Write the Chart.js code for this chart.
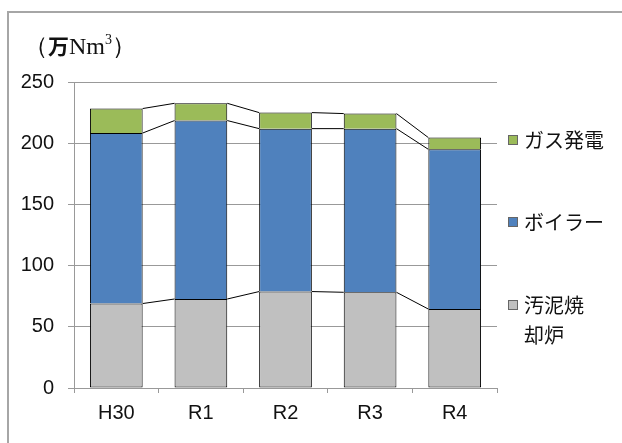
<!DOCTYPE html>
<html>
<head>
<meta charset="utf-8">
<script src="https://cdn.jsdelivr.net/npm/chart.js@4/dist/chart.umd.min.js"></script>
<style>
  html, body { margin: 0; padding: 0; background: #fff; }
  #wrap { position: relative; width: 622px; height: 443px; overflow: hidden; }
  #frame { position: absolute; left: 7px; top: 11px; width: 700px; height: 500px;
           border-left: 2px solid #a6a6a6; border-top: 2px solid #a6a6a6; }
  #unit { position: absolute; left: 24px; top: 30px; font-size: 24px; color: #111;
          font-family: "Liberation Serif", serif; white-space: nowrap; }
  #unit .man { font-family: "Noto Sans CJK JP", sans-serif; font-weight: bold; font-size: 21px; }
  #unit sup { font-size: 14px; vertical-align: 10px; line-height: 0; }
  .leg { position: absolute; left: 508px; font-family: "Noto Sans CJK JP", sans-serif;
         font-size: 20px; color: #111; line-height: 30px; }
  .leg span.box { position: absolute; left: 0; top: 10px; width: 8px; height: 8px;
                  border: 1px solid #666; }
  .leg span.txt { display: block; margin-left: 16px; }
  canvas { position: absolute; left: 0; top: 0; }
</style>
</head>
<body>
<div id="wrap">
  <div id="frame"></div>
  <canvas id="myChart" width="622" height="443"></canvas>
  <div id="unit">（<span class="man">万</span>Nm<sup>3</sup>）</div>
  <div id="legend"></div>
</div>
<script>
// data
const years = ["H30", "R1", "R2", "R3", "R4"];
const sludge = [69, 72.7, 78.8, 78.2, 64.5];   // 汚泥焼却炉
const boiler = [139.3, 145.8, 133.1, 133.7, 130.5]; // ボイラー
const gas = [20, 14.1, 13.1, 12.3, 9.6];       // ガス発電
const yTicks = [0, 50, 100, 150, 200, 250];

const seriesNames = ["汚泥焼却炉", "ボイラー", "ガス発電"];
const seriesColors = ["#c0c0c0", "#4f81bd", "#9bbb59"];

// legend (top to bottom = reversed stack)
const legendTops = [290, 207, 125];
const legendLines = [["汚泥焼", "却炉"], ["ボイラー"], ["ガス発電"]];
const legendParent = document.getElementById("legend");
seriesNames.forEach((name, i) => {
  let item = document.createElement("div");
  item.className = "leg";
  item.style.top = legendTops[i] + "px";
  item.innerHTML = '<span class="box" style="background:' + seriesColors[i] + '"></span>' +
    legendLines[i].map(t => '<span class="txt">' + t + '</span>').join("");
  legendParent.appendChild(item);
});

// excel style series lines between bars
const seriesLines = {
  id: "seriesLines",
  afterDatasetsDraw(chart) {
    const ctx = chart.ctx;
    ctx.save();
    ctx.strokeStyle = "#000";
    ctx.lineWidth = 1;
    chart.data.datasets.forEach((ds, di) => {
      const bars = chart.getDatasetMeta(di).data;
      for (let i = 0; i < bars.length - 1; i++) {
        const a = bars[i], b = bars[i + 1];
        ctx.beginPath();
        ctx.moveTo(a.x + a.width / 2, a.y);
        ctx.lineTo(b.x - b.width / 2, b.y);
        ctx.stroke();
      }
    });
    ctx.restore();
  }
};

const ctx = document.getElementById("myChart").getContext("2d");
new Chart(ctx, {
  type: "bar",
  data: {
    labels: years,
    datasets: [sludge, boiler, gas].map((d, i) => ({
      label: seriesNames[i],
      data: d,
      backgroundColor: seriesColors[i],
      borderColor: "#000",
      borderWidth: i === 0 ? 1 : { top: 1, left: 1, right: 1, bottom: 0 },
      borderSkipped: false,
      barPercentage: 0.623,
      categoryPercentage: 1
    }))
  },
  options: {
    responsive: false,
    animation: false,
    layout: { padding: { top: 82, right: 125, left: 0, bottom: 0 } },
    plugins: { legend: { display: false }, tooltip: { enabled: false } },
    scales: {
      x: {
        stacked: true,
        grid: { display: true, drawOnChartArea: false, offset: true, color: "#999", tickLength: 5 },
        border: { color: "#999", width: 1 },
        ticks: { color: "#111", font: { family: "Liberation Sans", size: 20 }, padding: 8 },
        afterFit(scale) { scale.height = 55; }
      },
      y: {
        stacked: true,
        min: 0,
        max: 250,
        afterBuildTicks(scale) { scale.ticks = yTicks.map(v => ({ value: v })); },
        grid: { color: "#999", tickLength: 6 },
        border: { color: "#999", width: 1 },
        ticks: { color: "#111", font: { family: "Liberation Sans", size: 20 }, padding: 14 },
        afterFit(scale) { scale.width = 74; }
      }
    }
  },
  plugins: [seriesLines]
});
</script>
</body>
</html>
